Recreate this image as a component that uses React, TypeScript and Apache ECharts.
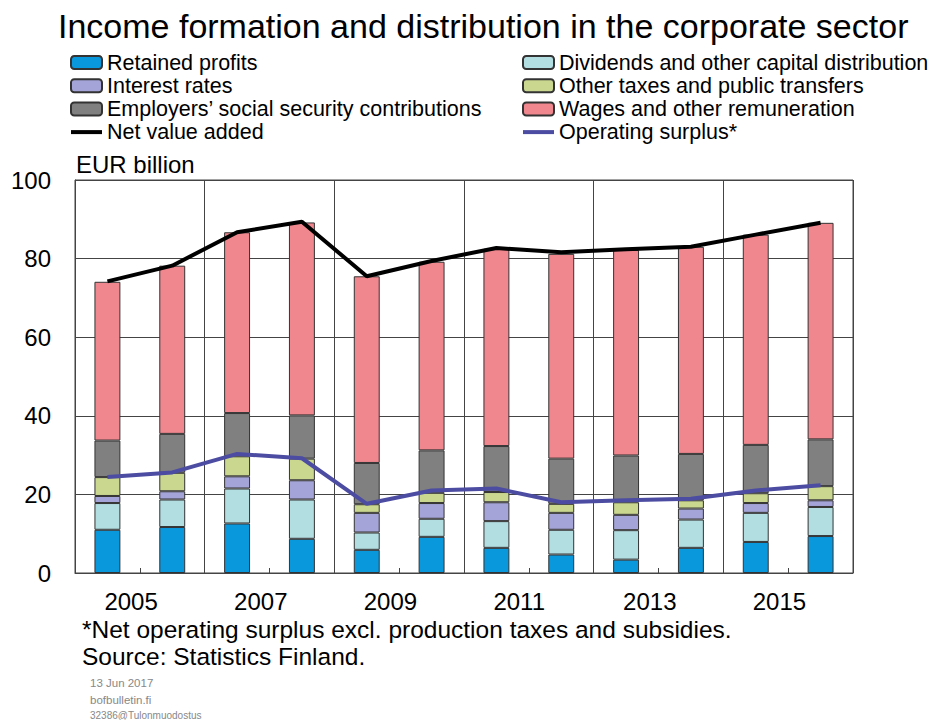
import React, { useEffect, useRef } from "react";
import * as echarts from "echarts";

const years = ["2005", "2006", "2007", "2008", "2009", "2010", "2011", "2012", "2013", "2014", "2015", "2016"];
const retainedProfits = [11.0, 11.7, 12.6, 8.7, 5.9, 9.2, 6.4, 4.7, 3.4, 6.4, 7.9, 9.4];
const dividends = [6.8, 7.0, 8.9, 10.0, 4.4, 4.6, 6.8, 6.3, 7.5, 7.2, 7.4, 7.4];
const interestRates = [1.8, 2.1, 3.1, 4.9, 5.0, 4.0, 4.8, 4.3, 3.9, 2.8, 2.5, 1.7];
const otherTaxes = [4.8, 4.7, 5.1, 5.5, 2.2, 2.6, 2.6, 2.3, 3.2, 2.1, 2.5, 3.6];
const employersContrib = [9.3, 9.9, 11.0, 11.0, 10.5, 10.8, 11.7, 11.5, 11.9, 11.8, 12.3, 11.9];
const wages = [40.4, 42.8, 46.0, 49.1, 47.5, 48.0, 50.2, 52.1, 52.3, 52.7, 53.5, 55.1];
const netValueAdded = [74.2, 78.2, 86.7, 89.4, 75.5, 79.4, 82.7, 81.6, 82.4, 83.0, 86.1, 89.1];
const operatingSurplus = [24.4, 25.6, 30.3, 29.2, 17.6, 21.0, 21.5, 18.0, 18.5, 18.9, 21.0, 22.3];

const FONT = "'Liberation Sans', Arial, sans-serif";

export default function App() {
  const ref = useRef<HTMLDivElement>(null);
  useEffect(() => {
    if (!ref.current) return;
    const chart = echarts.init(ref.current, null, { renderer: "svg" });
    const bar = (name: string, data: number[], color: string) => ({
      name,
      type: "bar",
      stack: "total",
      data,
      barWidth: "40%",
      itemStyle: { color, borderColor: "#333", borderWidth: 1 },
    });
    const line = (name: string, data: number[], color: string) => ({
      name,
      type: "line",
      data,
      symbol: "circle",
      showSymbol: false,
      z: 5,
      lineStyle: { color, width: 4 },
      itemStyle: { color, opacity: 0 },
    });
    const legendText = { fontFamily: FONT, fontSize: 21.5, color: "#000", lineHeight: 21 };
    const legendBase = {
      orient: "vertical",
      top: 51.5,
      padding: 0,
      itemWidth: 31,
      itemHeight: 13,
      itemGap: 1.2,
      textStyle: legendText,
      lineStyle: { width: 4 },
    };
    chart.setOption({
      animation: false,
      textStyle: { fontFamily: FONT },
      title: {
        text: "Income formation and distribution in the corporate sector",
        left: 53,
        top: 4,
        textStyle: { fontFamily: FONT, fontSize: 34, fontWeight: "normal", color: "#000" },
      },
      legend: [
        {
          ...legendBase,
          left: 69,
          data: ["Retained profits", "Interest rates", "Employers\u2019 social security contributions", "Net value added"],
        },
        {
          ...legendBase,
          left: 521,
          data: ["Dividends and other capital distribution", "Other taxes and public transfers", "Wages and other remuneration", "Operating surplus*"],
        },
      ],
      grid: {
        left: 75,
        right: 77,
        top: 180,
        bottom: 147,
        show: true,
        borderColor: "#444",
        borderWidth: 1,
      },
      xAxis: {
        type: "category",
        data: years,
        axisLine: { lineStyle: { color: "#444", width: 1 } },
        axisTick: { show: true, inside: true, length: 5, interval: 0, lineStyle: { color: "#444" } },
        axisLabel: {
          interval: 1,
          align: "left",
          margin: 17,
          fontSize: 24,
          lineHeight: 22,
          padding: [0, 0, 0, -3],
          color: "#000",
          fontFamily: FONT,
        },
        splitLine: { show: true, interval: 1, lineStyle: { color: "#444", width: 1 } },
      },
      yAxis: {
        type: "value",
        min: 0,
        max: 100,
        interval: 20,
        name: "EUR billion",
        nameLocation: "end",
        nameGap: 5,
        nameTextStyle: { align: "left", verticalAlign: "bottom", fontSize: 24, lineHeight: 22, color: "#000", fontFamily: FONT, padding: [0, 0, 0, 1] },
        axisLine: { show: true, lineStyle: { color: "#444" } },
        axisTick: { show: false },
        axisLabel: { margin: 24, fontSize: 24, color: "#000", fontFamily: FONT },
        splitLine: { show: true, lineStyle: { color: "#444", width: 1 } },
      },
      series: [
        bar("Retained profits", retainedProfits, "#0a98dc"),
        bar("Dividends and other capital distribution", dividends, "#b2dde1"),
        bar("Interest rates", interestRates, "#a4a4d8"),
        bar("Other taxes and public transfers", otherTaxes, "#c9d78f"),
        bar("Employers\u2019 social security contributions", employersContrib, "#808080"),
        bar("Wages and other remuneration", wages, "#f0878f"),
        line("Net value added", netValueAdded, "#000"),
        line("Operating surplus*", operatingSurplus, "#4c4ca2"),
      ],
      graphic: [
        {
          type: "text",
          left: 82,
          top: 617,
          style: { text: "*Net operating surplus excl. production taxes and subsidies.", fontSize: 24.5, lineHeight: 24, fontFamily: FONT, fill: "#000" },
        },
        {
          type: "text",
          left: 82,
          top: 644,
          style: { text: "Source: Statistics Finland.", fontSize: 24.5, lineHeight: 24, fontFamily: FONT, fill: "#000" },
        },
        {
          type: "text",
          left: 90,
          top: 677,
          style: { text: "13 Jun 2017", fontSize: 11.5, fontFamily: FONT, fill: "#888" },
        },
        {
          type: "text",
          left: 90,
          top: 694,
          style: { text: "bofbulletin.fi", fontSize: 11.5, fontFamily: FONT, fill: "#888" },
        },
        {
          type: "text",
          left: 90,
          top: 710,
          style: { text: "32386@Tulonmuodostus", fontSize: 10, fontFamily: FONT, fill: "#888" },
        },
      ],
    });
    return () => chart.dispose();
  }, []);
  return <div ref={ref} style={{ position: "fixed", left: 0, top: 0, width: 930, height: 720, background: "#fff" }} />;
}
